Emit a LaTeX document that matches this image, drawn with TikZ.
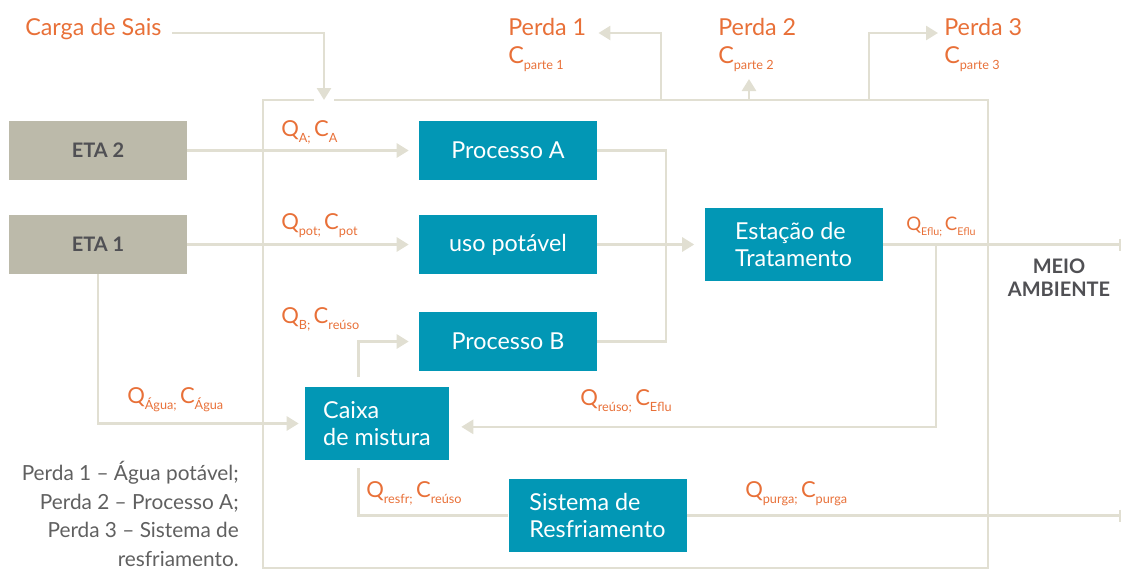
\documentclass[tikz,border=0pt]{standalone}
\usepackage{fontspec}
\setmainfont{Lato}
\usetikzlibrary{arrows.meta}

\definecolor{tealbox}{RGB}{2,151,181}
\definecolor{etabox}{RGB}{188,186,170}
\definecolor{flowline}{RGB}{225,223,210}
\definecolor{lossorange}{RGB}{232,112,56}
\definecolor{darktext}{RGB}{80,80,84}
\definecolor{legendgray}{RGB}{96,96,96}

\newcommand{\qsub}[1]{\raisebox{-4.5pt}{\fontsize{9.5}{9.5}\selectfont #1}}
\newcommand{\qsmall}[1]{\raisebox{-4pt}{\fontsize{8}{8}\selectfont #1}}

\begin{document}
\begin{tikzpicture}[x=0.75pt,y=-0.75pt,
    proc/.style={fill=tealbox,text=white,font=\fontsize{17.5}{20}\selectfont,
      inner sep=0pt,minimum width=133.5pt,minimum height=44.25pt},
    tallproc/.style={proc,align=left,minimum height=54.75pt},
    eta/.style={fill=etabox,text=darktext,font=\fontsize{15}{16}\selectfont\bfseries,
      inner sep=0pt,minimum width=133.5pt,minimum height=44.25pt},
    qc/.style={text=lossorange,font=\fontsize{16.5}{18}\selectfont,inner sep=0pt,anchor=base west},
    loss/.style={qc,font=\fontsize{17.5}{18}\selectfont},
    flow/.style={draw=flowline,line width=2pt},
    arr/.style={flow,-{Triangle[length=9pt,width=10.5pt]}},
    outlet/.style={flow,-{Bar[width=9pt,line width=1.5pt]}}]
  \useasboundingbox (0,0) rectangle (1123,572);

  \node[eta] (eta2) at (98,150.5) {ETA 2};
  \node[eta] (eta1) at (98,244.5) {ETA 1};

  \node[proc] (procA) at (508,150.5) {Processo A};
  \node[proc] (uso) at (508,244.5) {uso potável};
  \node[proc] (procB) at (508,341.5) {Processo B};
  \node[tallproc] (ete) at (793.5,244.5) {Estação de\\Tratamento};
  \node[tallproc,minimum width=108pt] (caixa) at (377,423.5) {Caixa\\de mistura};
  \node[tallproc] (sist) at (597.5,515.5) {Sistema de\\Resfriamento};

  \node[loss] (carga) at (25,35) {Carga de Sais};
  \node[loss] (perda1) at (508,35) {Perda 1};
  \node[loss] (perda2) at (718,35) {Perda 2};
  \node[loss] (perda3) at (944,35) {Perda 3};
  \node[loss] (cparte1) at (508,63) {C\qsub{parte 1}};
  \node[loss] (cparte2) at (718,63) {C\qsub{parte 2}};
  \node[loss] (cparte3) at (944,63) {C\qsub{parte 3}};

  \node[qc] (qa) at (281,136) {Q\qsub{A;}\hspace{2.5pt}C\qsub{A}};
  \node[qc] (qpot) at (281,229) {Q\qsub{pot;}\hspace{2.5pt}C\qsub{pot}};
  \node[qc] (qb) at (281,323) {Q\qsub{B;}\hspace{2.5pt}C\qsub{reúso}};
  \node[qc] (qagua) at (127,403) {Q\qsub{Água;}\hspace{2.5pt}C\qsub{Água}};
  \node[qc] (qresfr) at (366,497) {Q\qsub{resfr;}\hspace{2.5pt}C\qsub{reúso}};
  \node[qc] (qreuso) at (580,405) {Q\qsub{reúso;}\hspace{2.5pt}C\qsub{Eflu}};
  \node[qc] (qpurga) at (745,497) {Q\qsub{purga;}\hspace{2.5pt}C\qsub{purga}};
  \node[qc,font=\fontsize{14}{15}\selectfont] (qeflu) at (906,230) {Q\qsmall{Eflu;}\hspace{2pt}C\qsmall{Eflu}};

  \node[text=darktext,font=\fontsize{15}{17.5}\selectfont\bfseries,align=center] (meio)
    at (1059,278) {MEIO\\AMBIENTE};

  \foreach \txt [count=\i] in {Perda 1 – Água potável;,Perda 2 – Processo A;,
      Perda 3 – Sistema de,resfriamento.}
    \node[text=legendgray,font=\fontsize{15.6}{16}\selectfont,inner sep=0pt,anchor=base east]
      (leg\i) at (239,452+28.5*\i) {\txt};

  \coordinate (gapL) at (314,100);
  \coordinate (gapR) at (334,100);
  \coordinate (gapin) at (324,100);
  \coordinate (p1out) at (661,100);
  \coordinate (p2out) at (749,100);
  \coordinate (p2tip) at (749,79);
  \coordinate (p3out) at (869,100);
  \coordinate (merge) at (666,244.5);
  \coordinate (split) at (936,244.5);
  \coordinate (out1) at (1121,244.5);
  \coordinate (out2) at (1121,515.5);

  % fronteira do sistema
  \draw[flow] (gapL) -- (263,100) -- (263,568) -- (988,568) -- (988,100) -- (gapR);

  \draw[arr,shorten <=8pt] ([yshift=1.5pt]carga.base east) -| (gapin);
  \draw[arr,shorten >=9pt] (p1out) |- ([yshift=1.5pt]perda1.base east);
  \draw[arr] (p2out) -- (p2tip);
  \draw[arr,shorten >=4.5pt] (p3out) |- ([yshift=1.5pt]perda3.base west);

  \draw[arr,shorten >=7.5pt] (eta2) -- (procA);
  \draw[arr,shorten >=7.5pt] (eta1) -- (uso);
  \draw[arr,shorten >=4.5pt] (eta1.south) |- (caixa.west);
  \draw[arr,shorten <=7.5pt,shorten >=7.5pt] ([xshift=-14pt]caixa.north) |- (procB.west);
  \draw[flow,shorten <=6pt] ([xshift=-14pt]caixa.south) |- (sist.west);

  \draw[flow] (procA.east) -| (merge) |- (procB.east);
  \draw[arr,shorten >=7.5pt] (uso) -- (ete);
  \draw[outlet] (ete.east) -- (out1);
  \draw[arr,shorten >=9pt] (split) |- ([yshift=-2.5pt]caixa.east);
  \draw[outlet] (sist.east) -- (out2);
\end{tikzpicture}
\end{document}
